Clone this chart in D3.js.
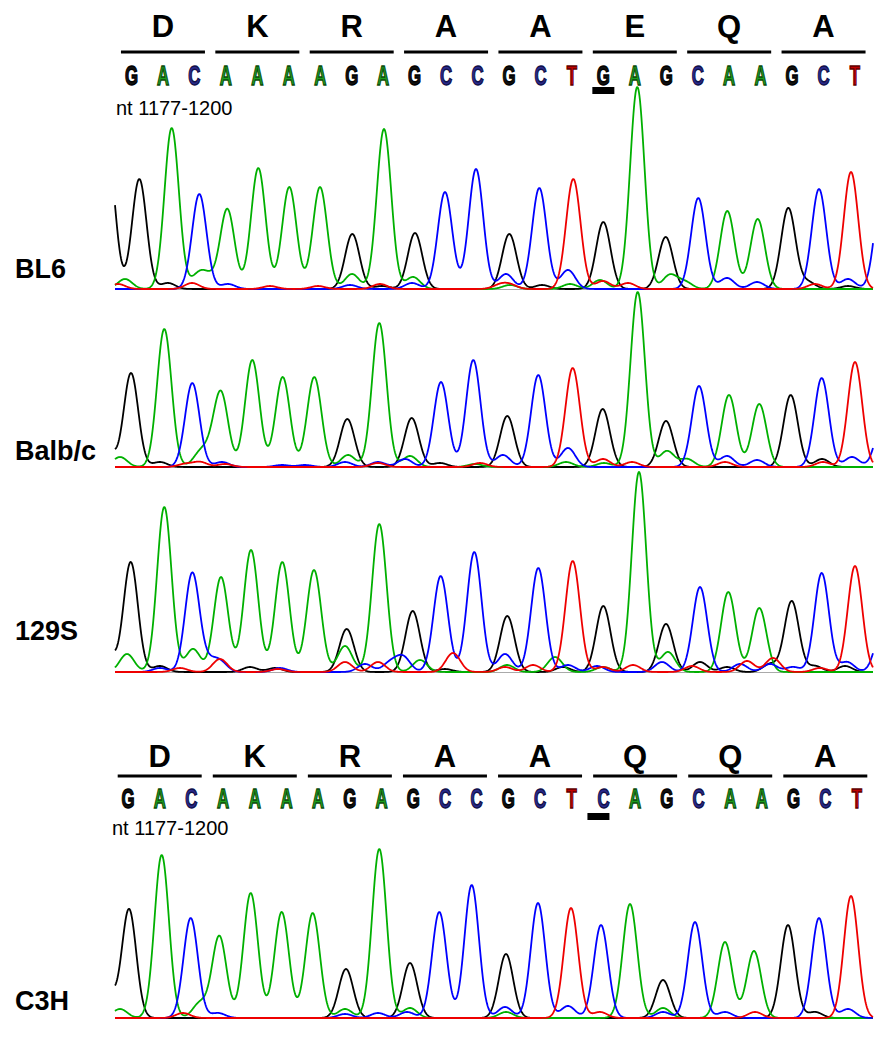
<!DOCTYPE html>
<html><head><meta charset="utf-8">
<script src="https://cdn.jsdelivr.net/npm/d3@7"></script>
<style>body{margin:0;background:#fff}svg{display:block}</style>
</head><body><svg id="c" width="884" height="1050"></svg>
<script>
// ---------------- data ----------------
const strains = ["BL6", "Balb/c", "129S", "C3H"];
const basesTop = "GACAAAAGAGCCGCTGAGCAAGCT";
const basesC3H = "GACAAAAGAGCCGCTCAGCAAGCT";
const aminoTop = ["D", "K", "R", "A", "A", "E", "Q", "A"];
const aminoC3H = ["D", "K", "R", "A", "A", "Q", "Q", "A"];
const ntRange = "nt 1177-1200";
const snpIndex = 15;

// called-base peak positions (scan units) and heights (RFU)
const scanBL6   = [24.3,56.7,84.3,112.3,143.3,174.3,205,237.3,269,300,330,361,394.3,424.3,458.3,488.3,522.3,550.7,583.3,612.3,642.7,673.3,704,736];
const heightBL6 = [1100,1610,950,800,1210,1020,1020,550,1600,560,970,1200,550,1010,1100,670,2020,520,910,780,700,810,1000,1170];
const scanBalb   = [16,49.3,77.3,106,137.3,167.7,199.3,232.3,264.3,296.7,326,358.3,392.3,423.3,457.7,487.7,522.7,551,584,614,644.3,675.7,706.7,740];
const heightBalb = [940,1380,840,730,1070,900,900,480,1440,490,850,1070,510,920,990,580,1750,460,810,720,630,720,890,1050];
const scan129   = [15.7,49.3,77.3,106,136,167.3,199,231.7,264.3,297.7,325.7,359.3,392.3,423.3,457.7,488.3,524,551,585,613.3,644.3,676.7,706.7,740];
const height129 = [1100,1650,990,950,1220,1100,1020,430,1480,610,960,1200,560,1040,1110,660,2000,480,850,800,640,710,990,1060];
const scanC3H   = [14,46.7,75.7,104.3,135.7,166.7,197.7,231,264.3,295,324.3,356.7,391,423,456,486,515,548,580,610,639,673,704,736];
const heightC3H = [1090,1630,1000,820,1250,1060,1050,490,1690,550,1060,1330,640,1150,1100,930,1140,380,960,760,670,930,1000,1220];

// background / shoulder peaks: [base channel, scan, RFU]
const minorBL6 = [["G",-7,1340],["C",767,1000],["A",10,100],["G",53,60],["A",83,130],["A",93,110],["T",3,50],["T",77,60],["C",113,50],["T",155,30],["T",203,30],["A",237,150],["C",235,40],["T",265,50],["G",267,30],["A",298,120],["C",297,60],["T",385,40],["C",391,150],["A",395,40],["T",395,40],["C",453,190],["A",455,50],["G",427,40],["A",485,90],["T",488,80],["T",513,60],["A",555,140],["A",570,70],["C",612,110],["C",642,70],["G",693,70],["C",733,100],["T",700,50],["G",733,30]];
const minorBalb = [["G",-10,260],["C",767,410],["A",5,100],["G",45,50],["A",85,130],["A",95,100],["T",70,30],["T",85,50],["C",107,50],["T",110,30],["C",167,20],["C",190,20],["A",233,120],["C",230,50],["T",263,40],["C",263,50],["A",295,110],["C",290,80],["G",325,40],["T",365,40],["A",360,30],["C",388,120],["C",453,190],["A",451,50],["A",489,40],["T",488,80],["T",517,50],["A",552,160],["A",572,80],["C",612,110],["C",642,70],["T",610,50],["G",707,80],["C",737,100],["T",708,50]];
const minor129 = [["G",-10,300],["C",767,410],["A",12,180],["G",45,60],["C",45,40],["T",65,40],["A",78,230],["C",94,90],["T",105,130],["C",105,100],["G",135,50],["G",160,40],["C",165,40],["T",163,30],["A",230,260],["T",230,100],["C",250,80],["C",275,90],["C",288,150],["T",263,100],["A",305,120],["T",338,190],["G",330,30],["C",390,180],["A",392,70],["T",390,50],["T",418,70],["A",440,150],["C",453,70],["G",448,50],["C",482,60],["A",488,50],["T",488,50],["T",518,70],["C",547,100],["A",553,200],["G",585,100],["T",577,60],["G",612,50],["T",632,110],["C",625,80],["C",655,80],["T",658,140],["G",655,80],["C",678,50],["G",700,60],["G",730,60],["T",705,40],["C",732,100]];
const minorC3H = [["G",-9,350],["A",5,90],["A",85,150],["T",68,50],["C",103,50],["A",230,90],["C",230,40],["C",263,50],["A",295,100],["C",292,60],["C",390,110],["A",391,60],["C",453,120],["T",485,60],["A",548,100],["C",548,60],["C",610,60],["T",640,60],["G",700,60],["C",733,90]];

// ---------------- drawing ----------------
const svg = d3.select("#c");
const color = {G: "#000000", A: "#00b000", C: "#0000ff", T: "#ee0000"};
const letterFill = {G: "#111111", A: "#1e9e1e", C: "#2a2a8c", T: "#c00000"};
const letterStroke = {G: "#000000", A: "#0a4a0a", C: "#10104a", T: "#600000"};
const FONT = "'Liberation Sans', Arial, sans-serif";

const x = d3.scaleLinear().domain([0, 758]).range([115, 873]);
const SIG = 7.2;

const panels = [
  {name: strains[0], scans: scanBL6, heights: heightBL6, minor: minorBL6, bases: basesTop, baseline: 289, labelY: 278},
  {name: strains[1], scans: scanBalb, heights: heightBalb, minor: minorBalb, bases: basesTop, baseline: 467, labelY: 460},
  {name: strains[2], scans: scan129, heights: height129, minor: minor129, bases: basesTop, baseline: 672, labelY: 640},
  {name: strains[3], scans: scanC3H, heights: heightC3H, minor: minorC3H, bases: basesC3H, baseline: 1018, labelY: 1010}
];

panels.forEach(p => {
  const y = d3.scaleLinear().domain([0, 2000]).range([p.baseline, p.baseline - 200]);
  const peaks = p.scans.map((s, i) => ({ch: p.bases[i], scan: s, h: p.heights[i]}))
    .concat(p.minor.map(m => ({ch: m[0], scan: m[1], h: m[2]})));
  const g = svg.append("g");
  g.append("line").attr("x1", x(0)).attr("x2", x(758)).attr("y1", p.baseline + 0.5).attr("y2", p.baseline + 0.5)
    .attr("stroke", "#aaa").attr("stroke-width", 1.2);
  const line = d3.line().x(d => x(d[0])).y(d => y(d[1]));
  ["G", "A", "C", "T"].forEach(ch => {
    const pts = d3.range(0, 758.01, 0.5).map(s => {
      let v = 0;
      peaks.forEach(pk => { if (pk.ch === ch) { const d = s - pk.scan; v += pk.h * Math.exp(-d * d / (2 * SIG * SIG)); } });
      return [s, v];
    });
    g.append("path").attr("d", line(pts)).attr("fill", "none").attr("stroke", color[ch])
      .attr("stroke-width", 1.8).attr("stroke-linejoin", "round");
  });
  svg.append("text").attr("x", 15).attr("y", p.labelY).attr("font-family", FONT).attr("font-weight", "bold")
    .attr("font-size", 27).attr("fill", "#000").text(p.name);
});

// sequence headers
const headers = [
  {bases: basesTop, amino: aminoTop, x0: 131.5, x1: 855, aaY: 37, lineY: 52, baseY: 85, barY: 87, ntX: 116, ntY: 115, barShift: 0},
  {bases: basesC3H, amino: aminoC3H, x0: 128, x1: 857, aaY: 767, lineY: 776, baseY: 808, barY: 813, ntX: 112, ntY: 835, barShift: -5}
];
headers.forEach(h => {
  const bx = d3.scaleLinear().domain([0, h.bases.length - 1]).range([h.x0, h.x1]);
  const g = svg.append("g");
  h.amino.forEach((aa, i) => {
    const cx = bx(3 * i + 1);
    g.append("line").attr("x1", cx - 42).attr("x2", cx + 42).attr("y1", h.lineY).attr("y2", h.lineY)
      .attr("stroke", "#000").attr("stroke-width", 3);
    g.append("text").attr("x", cx).attr("y", h.aaY).attr("text-anchor", "middle").attr("font-family", FONT)
      .attr("font-weight", "bold").attr("font-size", 31).attr("fill", "#000").text(aa);
  });
  h.bases.split("").forEach((b, i) => {
    g.append("text").attr("transform", `translate(${bx(i)},${h.baseY}) scale(0.6,1)`)
      .attr("text-anchor", "middle").attr("font-family", FONT).attr("font-weight", "bold")
      .attr("font-size", 28).attr("fill", letterFill[b]).attr("stroke", letterStroke[b]).attr("stroke-width", 1.5)
      .text(b);
  });
  g.append("rect").attr("x", bx(snpIndex) + h.barShift - 11).attr("y", h.barY).attr("width", 22).attr("height", 7).attr("fill", "#000");
  g.append("text").attr("x", h.ntX).attr("y", h.ntY).attr("font-family", FONT).attr("font-size", 20).attr("fill", "#000").text(ntRange);
});
</script></body></html>
